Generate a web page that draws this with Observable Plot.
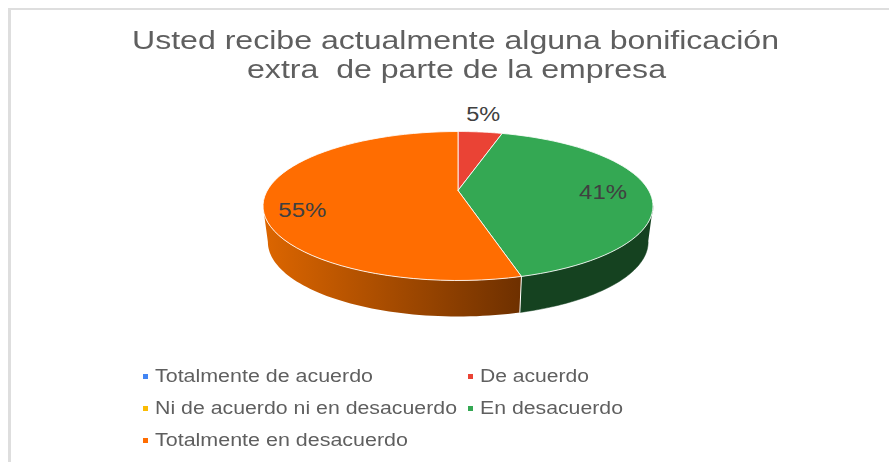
<!DOCTYPE html>
<html>
<head>
<meta charset="utf-8">
<script src="https://cdn.jsdelivr.net/npm/d3@7"></script>
<script src="https://cdn.jsdelivr.net/npm/@observablehq/plot@0.6"></script>
<style>
  html, body { margin: 0; padding: 0; background: #fff; }
  #page { position: relative; width: 889px; height: 462px; overflow: hidden; font-family: "Liberation Sans", Arial, sans-serif; }
  #page svg { position: absolute; left: 0; top: 0; }
  .frame { position: absolute; background: #dedede; }
  .t { position: absolute; white-space: pre; transform-origin: left center; color: #5f5f5f; filter: blur(0.4px); }
  .sw { position: absolute; width: 5px; height: 5px; }
</style>
</head>
<body>
<div id="page"></div>
<script>
// ---- data ----
const titleLines = ["Usted recibe actualmente alguna bonificación", "extra  de parte de la empresa"];
const categories = ["Totalmente de acuerdo", "De acuerdo", "Ni de acuerdo ni en desacuerdo", "En desacuerdo", "Totalmente en desacuerdo"];
const shares = [0, 4.5, 0, 41.4, 54.5];
const shareLabels = ["", "5%", "", "41%", "55%"];
const colors = ["#4285F4", "#EA4335", "#FBBC04", "#34A853", "#FF6D01"];

// ---- layout, kept apart from the data ----
const tilt = -0.208;            // perspective shift of the pie's apex
const rimDrop = 36 / 74.5;      // thickness of the pie, in disc units
const rimShrink = 0.975;        // far rim is slightly narrower
const titleLayout = [[132, 27, 647], [247, 56, 419]];
const legendLayout = [[155, 377, 218], [480, 377, 109], [155, 409, 302], [480, 409, 143], [155, 441, 253]];
const swatchY = [376, 376, 408, 408, 440];
const labelLayout = {1: {r: 1, dx: 3, dy: -17, w: 34}, 3: {r: 0.76, dx: 0, dy: 2, w: 48}, 4: {r: 0.8, dx: -1, dy: 12, w: 48}};

// disc position (fraction of the turn, radius) → ellipse coordinates in [-1, 1]
function project(f, r = 1) {
  const a = f * 2 * Math.PI, u = r * Math.sin(a), v = -r * Math.cos(a), d = 1 + tilt * v;
  return {x: u * Math.sqrt(1 - tilt * tilt) / d, y: (v + tilt) / d};
}
const lower = p => ({x: p.x * rimShrink, y: p.y + rimDrop});
const arc = (f0, f1) => d3.range(0, 61).map(i => project(f0 + (f1 - f0) * i / 60));

const total = d3.sum(shares);
let run = 0;
const slices = categories.map((name, i) => {
  const start = run / total; run += shares[i];
  return {name, i, start, end: run / total, color: colors[i]};
}).filter(s => s.end > s.start);

const wedges = slices.flatMap(s => [project(0, 0), ...arc(s.start, s.end), project(0, 0)].map(p => ({...p, name: s.name, color: s.color})));

// near-side wall of the pie: from the right extreme to the left extreme of the ellipse
const nearStart = Math.acos(tilt) / (2 * Math.PI), nearEnd = 1 - nearStart;
const wall = (f0, f1, name) => {
  const top = arc(f0, f1);
  return [...top, ...top.slice().reverse().map(lower)].map(p => ({...p, name}));
};
const green = slices[1], orange = slices[2];
const wallGreen = wall(Math.max(green.start, nearStart), green.end, "g");
const wallOrange = wall(orange.start, Math.min(orange.end, nearEnd), "o");

const labels = slices.map(s => {
  const l = labelLayout[s.i];
  return {...project((s.start + s.end) / 2, l.r), text: shareLabels[s.i], ...l};
});

const gradient = () => {
  const defs = d3.create("svg:defs");
  const g = defs.append("linearGradient").attr("id", "wallOrange").attr("x1", "0").attr("x2", "1").attr("y1", "0").attr("y2", "0");
  g.append("stop").attr("offset", "0%").attr("stop-color", "#dd6600");
  g.append("stop").attr("offset", "100%").attr("stop-color", "#6e3000");
  return defs.node();
};

const plot = Plot.plot({
  width: 889, height: 462,
  margin: 0,
  x: {domain: [-1, 1], range: [262.5, 652.5], axis: null},
  y: {domain: [-1, 1], range: [131, 280], axis: null},
  marks: [
    gradient,
    Plot.line(wallGreen, {x: "x", y: "y", fill: "#154220", stroke: "#154220", strokeWidth: 0.5}),
    Plot.line(wallOrange, {x: "x", y: "y", fill: "url(#wallOrange)"}),
    Plot.line([project(orange.start), lower(project(orange.start))], {x: "x", y: "y", stroke: "#fff", strokeWidth: 1}),
    Plot.line(wedges, {x: "x", y: "y", z: "name", fill: "color", stroke: "#fff", strokeWidth: 1, strokeLinejoin: "round", strokeOpacity: 0.85}),
    ...labels.map(l => Plot.text([l], {x: "x", y: "y", text: "text", dx: l.dx, dy: l.dy, fill: "#404040", fontSize: 20, fontFamily: "Liberation Sans"}))
  ]
});
d3.select(plot).selectAll("g[aria-label=text] text").each(function () {
  const item = labels.find(l => l.text === this.textContent);
  if (item) { this.setAttribute("textLength", item.w); this.setAttribute("lengthAdjust", "spacingAndGlyphs"); }
});

const page = document.getElementById("page");
page.appendChild(plot);

[[8, 8, 881, 2], [8, 8, 2.5, 454]].forEach(([l, t, w, h]) => {
  const f = document.createElement("div");
  f.className = "frame";
  f.style.cssText = `left:${l}px;top:${t}px;width:${w}px;height:${h}px`;
  page.appendChild(f);
});

function addText(text, x, y, width, size) {
  const el = document.createElement("div");
  el.className = "t";
  el.textContent = text;
  el.style.left = x + "px";
  el.style.top = y + "px";
  el.style.fontSize = size + "px";
  el.style.lineHeight = "1";
  page.appendChild(el);
  el.style.transform = `scaleX(${width / el.getBoundingClientRect().width})`;
  return el;
}
titleLines.forEach((s, i) => addText(s, titleLayout[i][0], titleLayout[i][1], titleLayout[i][2], 26));
categories.forEach((s, i) => {
  const [x, y, w] = legendLayout[i];
  addText(s, x, y - 9, w, 17.5);
  const sw = document.createElement("div");
  sw.className = "sw";
  sw.style.cssText = `left:${x - 12}px;top:${swatchY[i] - 2.5}px;background:${colors[i]}`;
  page.appendChild(sw);
});
</script>
</body>
</html>
